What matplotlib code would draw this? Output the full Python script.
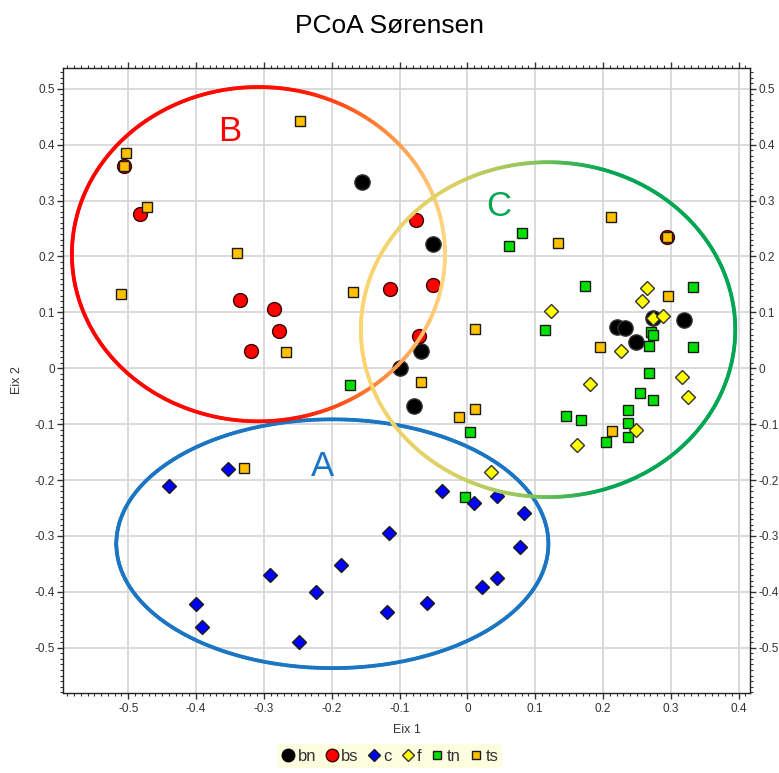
import numpy as np
import matplotlib
matplotlib.use('Agg')
import matplotlib.pyplot as plt
from matplotlib.collections import LineCollection
from matplotlib.colors import LinearSegmentedColormap
from matplotlib.ticker import MultipleLocator
from matplotlib.lines import Line2D

plt.rcParams['font.family'] = ['Liberation Sans', 'DejaVu Sans']

# --- data ---
bn_x = [-0.155, -0.050, -0.069, -0.100, -0.078, 0.220, 0.233, 0.249, 0.273, 0.319]
bn_y = [0.333, 0.222, 0.030, 0.000, -0.068, 0.073, 0.072, 0.047, 0.089, 0.086]

bs_x = [-0.506, -0.482, -0.335, -0.285, -0.277, -0.319, -0.075, -0.114, -0.050, -0.071, 0.295]
bs_y = [0.361, 0.275, 0.122, 0.106, 0.066, 0.030, 0.265, 0.141, 0.148, 0.057, 0.234]

c_x = [-0.353, -0.440, -0.291, -0.187, -0.223, -0.400, -0.391, -0.248, -0.038,
       0.010, 0.043, 0.084, -0.115, 0.077, 0.044, 0.022, -0.059, -0.119]
c_y = [-0.181, -0.211, -0.370, -0.352, -0.401, -0.422, -0.463, -0.490, -0.220,
       -0.242, -0.229, -0.259, -0.295, -0.320, -0.376, -0.392, -0.420, -0.436]

f_x = [0.124, 0.265, 0.257, 0.274, 0.288, 0.226, 0.181, 0.316, 0.326, 0.248, 0.162, 0.035]
f_y = [0.102, 0.143, 0.120, 0.089, 0.093, 0.030, -0.029, -0.016, -0.052, -0.111, -0.138, -0.186]

tn_x = [0.080, 0.062, 0.114, 0.174, 0.333, 0.271, 0.274, 0.268, 0.333, 0.268, 0.255,
        0.274, 0.237, 0.146, 0.168, 0.237, 0.237, 0.205, 0.004, -0.173, -0.003]
tn_y = [0.242, 0.218, 0.068, 0.147, 0.145, 0.064, 0.059, 0.039, 0.038, -0.009, -0.045,
        -0.057, -0.075, -0.086, -0.093, -0.098, -0.123, -0.132, -0.114, -0.030, -0.231]

ts_x = [-0.503, -0.506, -0.472, -0.339, -0.510, -0.267, -0.246, -0.329, -0.168, 0.012,
        -0.069, -0.013, 0.012, 0.133, 0.212, 0.295, 0.296, 0.195, 0.214]
ts_y = [0.385, 0.361, 0.288, 0.206, 0.132, 0.029, 0.442, -0.179, 0.136, 0.070,
        -0.025, -0.088, -0.073, 0.224, 0.270, 0.234, 0.129, 0.038, -0.113]

# group ellipses: label, centre, width, height
groups = ['A', 'B', 'C']
ell_cx = [-0.199, -0.308, 0.119]
ell_cy = [-0.314, 0.204, 0.069]
ell_w = [0.637, 0.550, 0.552]
ell_h = [0.445, 0.598, 0.599]
label_x = [-0.214, -0.350, 0.046]
label_y = [-0.176, 0.424, 0.290]

fig = plt.figure(figsize=(7.79, 7.73), dpi=100)
ax = fig.add_axes([0.081, 0.1035, 0.882, 0.8085])

ax.set_xlim(-0.596, 0.417)
ax.set_ylim(-0.581, 0.537)

ax.plot(bn_x, bn_y, 'o', color='black', mec='#333333', ms=11, zorder=3)
ax.plot(bs_x, bs_y, 'o', color='#ff0000', mec='#3a0000', mew=1.0, ms=10, zorder=3)
ax.plot(tn_x, tn_y, 's', color='#00e000', mec='#1a1a1a', mew=1.0, ms=6.5, zorder=4)
ax.plot(c_x, c_y, 'D', color='#0000ff', mec='#1a1a1a', mew=1.0, ms=7.5, zorder=5)
ax.plot(f_x, f_y, 'D', color='#ffff00', mec='#333333', mew=1.0, ms=7.5, zorder=5)
ax.plot(ts_x, ts_y, 's', color='#ffc000', mec='#1a1a1a', mew=1.0, ms=6.5, zorder=6)

# ellipses, coloured along x
cmaps = {
    'A': LinearSegmentedColormap.from_list('a', ['#1a75c2', '#1a75c2']),
    'B': LinearSegmentedColormap.from_list('b', [(0, '#ff0000'), (0.6, '#ff1000'),
                                                 (0.8, '#ff7a30'), (1, '#ffd680')]),
    'C': LinearSegmentedColormap.from_list('c', [(0, '#fcd470'), (0.25, '#d8d062'),
                                                 (0.45, '#8cc65a'), (0.65, '#00a651'),
                                                 (1, '#00a651')]),
}
label_colors = {'A': '#1a75c2', 'B': '#ff0000', 'C': '#00a651'}

t = np.linspace(0, 2 * np.pi, 400)
for g, cx, cy, w, h, lx, ly in zip(groups, ell_cx, ell_cy, ell_w, ell_h, label_x, label_y):
    ex = cx + w / 2 * np.cos(t)
    ey = cy + h / 2 * np.sin(t)
    pts = np.column_stack([ex, ey]).reshape(-1, 1, 2)
    segs = np.concatenate([pts[:-1], pts[1:]], axis=1)
    frac = (0.5 * (ex[:-1] + ex[1:]) - (cx - w / 2)) / w
    lc = LineCollection(segs, colors=cmaps[g](frac), linewidth=2.7, zorder=7,
                        capstyle='round')
    ax.add_collection(lc)
    ax.text(lx, ly, g, color=label_colors[g], fontsize=25, ha='center', va='center')

# axes cosmetics
ax.xaxis.set_minor_locator(MultipleLocator(0.01))
ax.yaxis.set_minor_locator(MultipleLocator(0.01))
ax.set_xticks(np.round(np.arange(-0.5, 0.41, 0.1), 1))
ax.set_yticks(np.round(np.arange(-0.5, 0.51, 0.1), 1))
ax.set_xticklabels(['-0.5', '-0.4', '-0.3', '-0.2', '-0.1', '0', '0.1', '0.2', '0.3', '0.4'])
ylabels = ['-0.5', '-0.4', '-0.3', '-0.2', '-0.1', '0', '0.1', '0.2', '0.3', '0.4', '0.5']
ax.set_yticklabels(ylabels)
ax.tick_params(which='both', direction='out', top=True, right=True, labelright=True,
               labelsize=8.5, colors='#333333', width=1)
ax.tick_params(which='major', length=4)
ax.tick_params(which='minor', length=2, width=0.8)
ax.tick_params(axis='y', which='major', pad=2)
ax.grid(True, which='major', color='#d4d4d4', linewidth=1.2)
ax.set_axisbelow(True)
for s in ax.spines.values():
    s.set_color('#222222')
    s.set_linewidth(1)

ax.set_xlabel('Eix 1', fontsize=9, color='#333333', labelpad=6)
ax.set_ylabel('Eix 2', fontsize=9, color='#333333', labelpad=8)
fig.text(0.5, 0.966, 'PCoA Sørensen', ha='center', va='center', fontsize=19)

handles = [
    Line2D([], [], ls='', marker='o', color='black', ms=9),
    Line2D([], [], ls='', marker='o', color='#ff0000', mec='#3a0000', ms=9),
    Line2D([], [], ls='', marker='D', color='#0000ff', mec='#1a1a1a', ms=6.5),
    Line2D([], [], ls='', marker='D', color='#ffff00', mec='#333333', ms=6.5),
    Line2D([], [], ls='', marker='s', color='#00e000', mec='#1a1a1a', ms=5.5),
    Line2D([], [], ls='', marker='s', color='#ffc000', mec='#1a1a1a', ms=5.5),
]
leg = fig.legend(handles, ['bn', 'bs', 'c', 'f', 'tn', 'ts'], loc='lower center',
                 bbox_to_anchor=(0.5, -0.004), ncol=6, frameon=True, fancybox=False,
                 facecolor='#fdfde0', edgecolor='none', fontsize=12,
                 handlelength=0.9, handletextpad=0.1, columnspacing=0.5,
                 borderpad=0.25, framealpha=1)
for txt in leg.get_texts():
    txt.set_color('#333333')

fig.savefig('out.png', dpi=100)
